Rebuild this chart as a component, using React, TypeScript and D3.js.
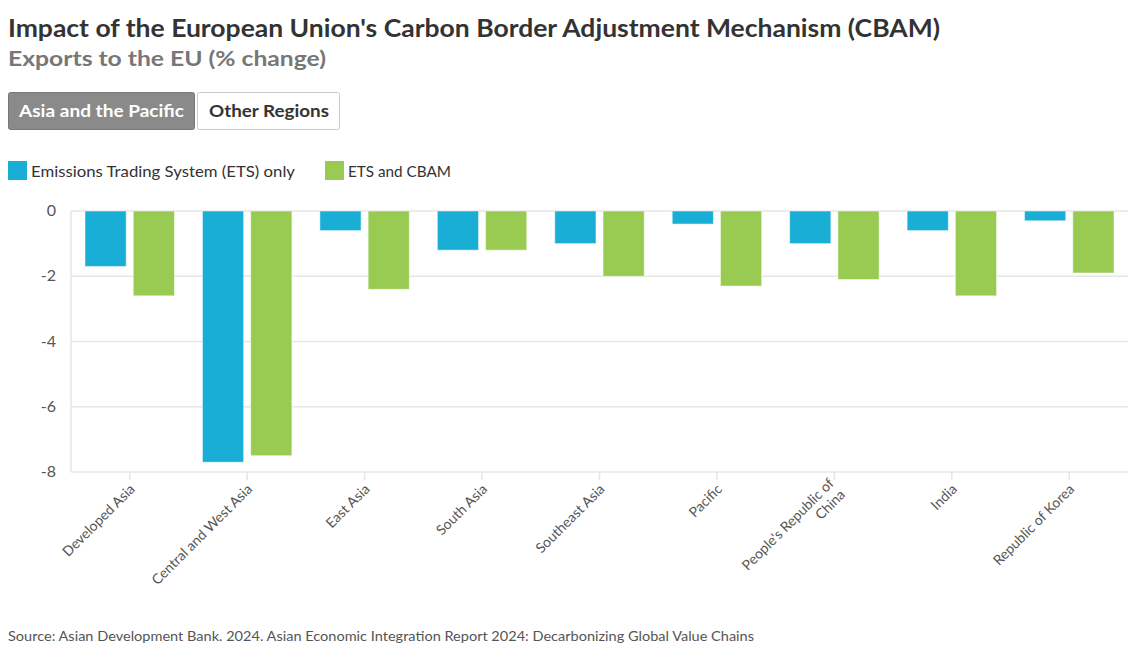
import React from "react";
import * as d3 from "d3";

const categories = [
  "Developed Asia",
  "Central and West Asia",
  "East Asia",
  "South Asia",
  "Southeast Asia",
  "Pacific",
  "People's Republic of China",
  "India",
  "Republic of Korea",
];
const etsOnly = [-1.7, -7.7, -0.6, -1.2, -1.0, -0.4, -1.0, -0.6, -0.3];
const etsCbam = [-2.6, -7.5, -2.4, -1.2, -2.0, -2.3, -2.1, -2.6, -1.9];
const seriesNames = ["Emissions Trading System (ETS) only", "ETS and CBAM"];
const seriesColors = ["#19aed6", "#99ca51"];
const yTicks = [0, -2, -4, -6, -8];

const W = 1144;
const H = 657;
const FONT = "'Source Sans Pro', Lato, 'Noto Sans', sans-serif";

function wrapLabel(s: string): string[] {
  if (s === "People's Republic of China") return ["People's Republic of", "China"];
  return [s];
}

export default function App() {
  const left = 71;
  const right = 1128;
  const top = 211;
  const bottom = 472;
  const x = d3.scaleBand<string>().domain(categories).range([left, right]).padding(0);
  const inner = d3
    .scaleBand<number>()
    .domain([0, 1])
    .range([0, x.bandwidth()])
    .paddingInner(0.146)
    .paddingOuter(0.29);
  const y = d3.scaleLinear().domain([0, -8]).range([top, bottom]);
  const series = [etsOnly, etsCbam];

  return (
    <svg
      width={W}
      height={H}
      style={{ position: "absolute", left: 0, top: 0, background: "#fff", fontFamily: FONT }}
    >
      <text x={8} y={37} fontSize={24} fontWeight={700} fill="#333" textLength={932} lengthAdjust="spacingAndGlyphs">
        Impact of the European Union's Carbon Border Adjustment Mechanism (CBAM)
      </text>
      <text x={8} y={66} fontSize={21} fontWeight={700} fill="#777" textLength={318} lengthAdjust="spacingAndGlyphs">
        Exports to the EU (% change)
      </text>

      <rect x={8.5} y={92.5} width={186} height={37} rx={2} fill="#8a8a8a" stroke="#777" />
      <text x={19} y={117} fontSize={17} fontWeight={700} fill="#fff" textLength={165} lengthAdjust="spacingAndGlyphs">
        Asia and the Pacific
      </text>
      <rect x={197.5} y={92.5} width={142} height={37} rx={2} fill="#fff" stroke="#ccc" />
      <text x={209} y={117} fontSize={17} fontWeight={700} fill="#333" textLength={120} lengthAdjust="spacingAndGlyphs">
        Other Regions
      </text>

      <rect x={8} y={161} width={19} height={19} fill={seriesColors[0]} />
      <text x={31} y={177} fontSize={16} fill="#333" textLength={264} lengthAdjust="spacingAndGlyphs">
        {seriesNames[0]}
      </text>
      <rect x={325} y={161} width={19} height={19} fill={seriesColors[1]} />
      <text x={348} y={177} fontSize={16} fill="#333" textLength={103} lengthAdjust="spacingAndGlyphs">
        {seriesNames[1]}
      </text>

      {yTicks.map((t) => (
        <g key={t}>
          <line x1={left} x2={right} y1={y(t)} y2={y(t)} stroke="#e6e6e6" strokeWidth={1.5} />
          <text x={56} y={y(t) + 5} fontSize={16} fill="#555" textAnchor="end">
            {t}
          </text>
        </g>
      ))}
      <line x1={left} x2={left} y1={top} y2={bottom} stroke="#e6e6e6" strokeWidth={1.5} />

      {categories.map((c) => {
        const cx = (x(c) as number) + x.bandwidth() / 2;
        const lines = wrapLabel(c);
        return (
          <g key={c}>
            <line x1={cx} x2={cx} y1={bottom} y2={bottom + 8} stroke="#e6e6e6" strokeWidth={1.5} />
            <text
              transform={`translate(${cx + 6},${bottom + 18}) rotate(-45)`}
              fontSize={14}
              fill="#555"
              textAnchor="end"
            >
              {lines.map((l, i) => (
                <tspan key={i} x={0} dy={i === 0 ? -(lines.length - 1) * 8 : 16}>
                  {l}
                </tspan>
              ))}
            </text>
          </g>
        );
      })}

      {categories.map((c, ci) => (
        <g key={c} transform={`translate(${x(c)},0)`}>
          {series.map((s, si) => {
            const v = s[ci];
            return (
              <rect
                key={si}
                x={inner(si)}
                y={y(0)}
                width={inner.bandwidth()}
                height={y(v) - y(0)}
                fill={seriesColors[si]}
                stroke="#ffffff"
                strokeOpacity={0.5}
                strokeWidth={1}
              />
            );
          })}
        </g>
      ))}

      <text x={8} y={641} fontSize={14} fill="#555" textLength={746} lengthAdjust="spacingAndGlyphs">
        Source: Asian Development Bank. 2024. Asian Economic Integration Report 2024: Decarbonizing Global Value Chains
      </text>
    </svg>
  );
}
